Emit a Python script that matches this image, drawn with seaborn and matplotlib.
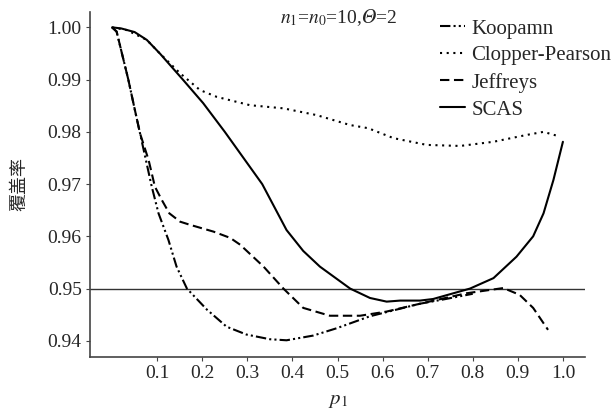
import matplotlib
matplotlib.use("Agg")
import matplotlib.pyplot as plt
import seaborn as sns
import pandas as pd

# ---- data ----
methods = ["Koopamn", "Clopper-Pearson", "Jeffreys", "SCAS"]

p_koopman = [0.0, 0.01, 0.036, 0.049, 0.062, 0.088, 0.103, 0.125, 0.143, 0.166, 0.21,
             0.254, 0.298, 0.35, 0.387, 0.446, 0.498, 0.572, 0.646, 0.683, 0.74, 0.80]
cov_koopman = [1.0, 0.9992, 0.99, 0.9848, 0.9797, 0.9695, 0.9644, 0.9593, 0.9542, 0.950, 0.946,
               0.9427, 0.9412, 0.9403, 0.9401, 0.941, 0.9424, 0.9447, 0.9463, 0.9471, 0.948, 0.949]

p_cp = [0.0, 0.032, 0.077, 0.106, 0.151, 0.195, 0.232, 0.306, 0.38, 0.454, 0.528, 0.568,
        0.624, 0.698, 0.772, 0.846, 0.919, 0.957, 0.993]
cov_cp = [1.0, 0.9995, 0.9976, 0.995, 0.9912, 0.988, 0.9867, 0.9851, 0.9845, 0.9832, 0.9813, 0.9807,
          0.9788, 0.9775, 0.9773, 0.9781, 0.9794, 0.980, 0.9791]

p_jeffreys = [0.0, 0.01, 0.036, 0.049, 0.062, 0.081, 0.095, 0.11, 0.127, 0.151, 0.173, 0.225,
              0.262, 0.284, 0.336, 0.38, 0.424, 0.483, 0.55, 0.609, 0.683, 0.786, 0.868, 0.904,
              0.934, 0.967]
cov_jeffreys = [1.0, 0.9992, 0.99, 0.9848, 0.9797, 0.9746, 0.9695, 0.967, 0.9644, 0.9628, 0.9622, 0.9609,
                0.9597, 0.9584, 0.9542, 0.950, 0.9463, 0.9448, 0.9448, 0.9456, 0.9471, 0.9491, 0.9501, 0.9488,
                0.9463, 0.9421]

p_scas = [0.0, 0.02, 0.05, 0.077, 0.106, 0.157, 0.202, 0.25, 0.333, 0.387, 0.424, 0.461, 0.528,
          0.572, 0.609, 0.639, 0.683, 0.712, 0.794, 0.846, 0.897, 0.934, 0.957, 0.979, 1.0]
cov_scas = [1.0, 0.9998, 0.9991, 0.9976, 0.995, 0.990, 0.9855, 0.980, 0.970, 0.9612, 0.9572, 0.9542, 0.950,
            0.9482, 0.9475, 0.9477, 0.9477, 0.948, 0.950, 0.952, 0.9561, 0.960, 0.9644, 0.9708, 0.9781]

x_ticks = [0.1, 0.2, 0.3, 0.4, 0.5, 0.6, 0.7, 0.8, 0.9, 1.0]
x_tick_labels = ["0.1", "0.2", "0.3", "0.4", "0.5", "0.6", "0.7", "0.8", "0.9", "1.0"]
y_ticks = [0.94, 0.95, 0.96, 0.97, 0.98, 0.99, 1.00]
y_tick_labels = ["0.94", "0.95", "0.96", "0.97", "0.98", "0.99", "1.00"]
ref_level = 0.95

frames = []
for m, p, c in [("Koopamn", p_koopman, cov_koopman), ("Clopper-Pearson", p_cp, cov_cp),
                ("Jeffreys", p_jeffreys, cov_jeffreys), ("SCAS", p_scas, cov_scas)]:
    frames.append(pd.DataFrame({"p1": p, "cov": c, "method": m}))
df = pd.concat(frames, ignore_index=True)

# ---- style ----
sns.set_style("ticks")
plt.rcParams["font.family"] = ["Liberation Serif", "Noto Sans CJK SC", "DejaVu Sans"]
plt.rcParams["mathtext.fontset"] = "stix"

fig = plt.figure(figsize=(6.12, 4.17), dpi=100)
ax = fig.add_axes([90 / 612, 1 - 357 / 417, (585 - 90) / 612, (357 - 11.7) / 417])

dashes = {"Koopamn": (5, 1.5, 1, 1.5, 1, 1.5), "Clopper-Pearson": (1, 2.2),
          "Jeffreys": (4.5, 2.2), "SCAS": ""}
sns.lineplot(data=df, x="p1", y="cov", style="method", style_order=methods,
             dashes=dashes, color="black", linewidth=1.5, ax=ax, legend=True, sort=True)

ax.axhline(ref_level, color="#333333", linewidth=1.0, zorder=0)

ax.set_xlim(-0.049, 1.049)
ax.set_ylim(0.9369, 1.003)
ax.set_xticks(x_ticks)
ax.set_xticklabels(x_tick_labels)
ax.set_yticks(y_ticks)
ax.set_yticklabels(y_tick_labels)
ax.tick_params(axis="both", labelsize=14, length=3, width=0.8, color="#444444", pad=3)
for s in ["top", "right"]:
    ax.spines[s].set_visible(False)
for s in ["left", "bottom"]:
    ax.spines[s].set_color("#444444")
    ax.spines[s].set_linewidth(1.2)

ax.set_xlabel(r"$p_1$", fontsize=15, labelpad=6)
ax.set_ylabel("覆盖率", fontsize=13, family=["Noto Sans CJK SC"], labelpad=14)

ax.legend_.remove()
handles, labels = ax.get_legend_handles_labels()
fig.legend(handles, labels, loc="upper left", bbox_to_anchor=(440 / 612, 1 - 19 / 417),
           frameon=False, fontsize=15, handlelength=1.2, handletextpad=0.3,
           labelspacing=0.35, borderpad=0, borderaxespad=0)

fig.text(280 / 612, 1 - 18 / 417, "$n_1$=$n_0$=10,$\U0001D6E9$=2", fontsize=14,
         ha="left", va="center")

fig.savefig("out.png", dpi=100)
